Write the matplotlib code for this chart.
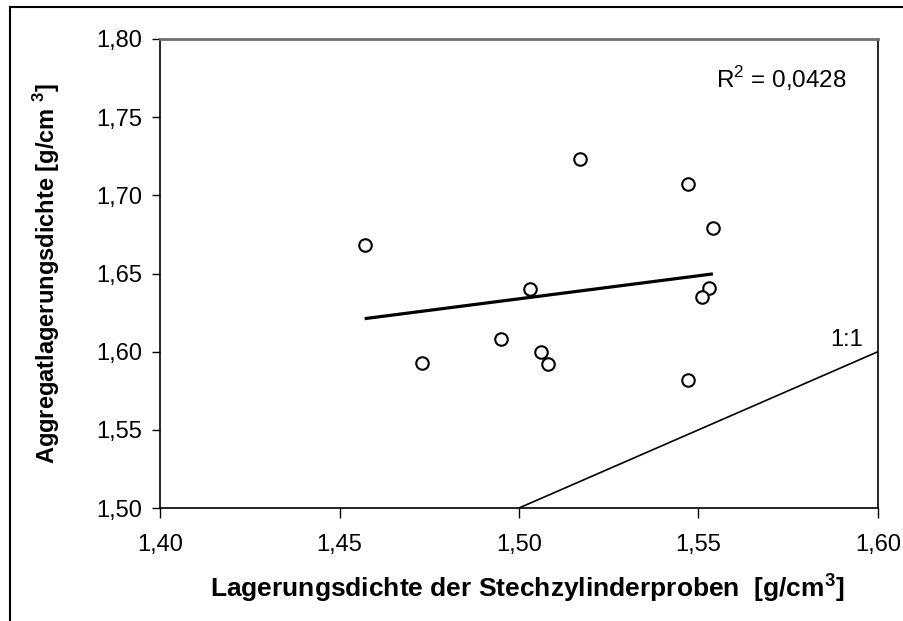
import matplotlib
matplotlib.use("Agg")
import matplotlib.pyplot as plt
import numpy as np
from matplotlib.lines import Line2D

# data
stechzylinder = [1.457, 1.473, 1.495, 1.503, 1.506, 1.508,
                 1.517, 1.547, 1.554, 1.553, 1.551, 1.547]
aggregat = [1.668, 1.593, 1.608, 1.640, 1.600, 1.592,
            1.723, 1.707, 1.679, 1.641, 1.635, 1.582]
x_ticks = [1.40, 1.45, 1.50, 1.55, 1.60]
y_ticks = [1.50, 1.55, 1.60, 1.65, 1.70, 1.75, 1.80]
r2_text = "R$^2$ = 0,0428"

plt.rcParams['font.family'] = ['Liberation Sans', 'DejaVu Sans']
plt.rcParams['mathtext.fontset'] = 'custom'
plt.rcParams['mathtext.rm'] = 'Liberation Sans'
plt.rcParams['mathtext.bf'] = 'Liberation Sans:bold'

fig = plt.figure(figsize=(9.04, 6.21), dpi=100)
ax = fig.add_axes([160/904, 1 - 508/621, (878 - 160)/904, (508 - 39)/621])

# scatter points
ax.plot(stechzylinder, aggregat, 'o', ms=9, mfc='white', mec='black',
        mew=1.5, zorder=4)

# linear trend line over the range of the data
k, d = np.polyfit(stechzylinder, aggregat, 1)
xt = np.array([min(stechzylinder), max(stechzylinder)])
ax.plot(xt, k*xt + d, color='black', lw=2.3, solid_capstyle='butt', zorder=3)

# 1:1 line
ax.plot([1.40, 1.60], [1.40, 1.60], color='black', lw=1.2, zorder=2)
ax.text(1.5866, 1.6075, "1:1", fontsize=17, ha='left', va='center')

ax.text(1.5549, 1.775, r2_text, fontsize=17.5, ha='left', va='center')

ax.set_xlim(1.40, 1.60)
ax.set_ylim(1.50, 1.80)
ax.set_xticks(x_ticks)
ax.set_yticks(y_ticks)
ax.set_xticklabels([("%.2f" % v).replace('.', ',') for v in x_ticks], fontsize=17)
ax.set_yticklabels([("%.2f" % v).replace('.', ',') for v in y_ticks], fontsize=17)
ax.tick_params(axis='x', direction='out', length=7, width=1, pad=12)
ax.tick_params(axis='y', direction='out', length=6, width=1, pad=7)

for s in ['left', 'bottom', 'right']:
    ax.spines[s].set_color('black')
    ax.spines[s].set_linewidth(1.2)
ax.spines['top'].set_color('#707070')
ax.spines['top'].set_linewidth(2)

# axis titles
fig.text(527/904, 1 - 588/621,
         "Lagerungsdichte der Stechzylinderproben  [g/cm$^\\mathbf{3}$]",
         fontsize=19, fontweight='bold', ha='center', va='center')
fig.text(47/904, 1 - 274/621, "Aggregatlagerungsdichte [g/cm $^\\mathbf{3}$]",
         fontsize=17, fontweight='bold', rotation=90,
         ha='center', va='center')

# outer chart border
fig.add_artist(Line2D([10/904, 10/904], [-0.05, 1 - 7/621], color='black',
                      lw=1.5, transform=fig.transFigure))
fig.add_artist(Line2D([10/904, 1.05], [1 - 7/621, 1 - 7/621], color='black',
                      lw=1.5, transform=fig.transFigure))

fig.savefig("out.png", dpi=100)
